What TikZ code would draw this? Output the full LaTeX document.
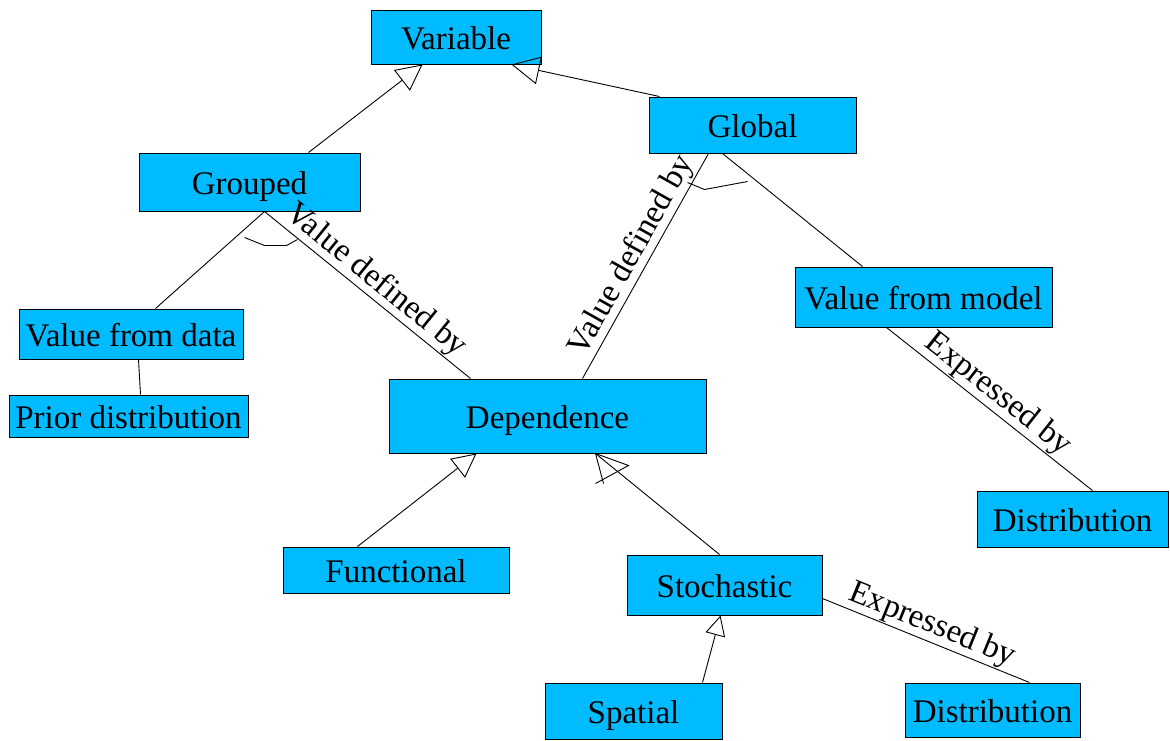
\documentclass[tikz,border=0pt]{standalone}
\usepackage{fontspec}
\setmainfont{Liberation Serif}
\usetikzlibrary{calc,arrows.meta}
\definecolor{boxblue}{RGB}{0,187,255}
\begin{document}
\begin{tikzpicture}[x=1pt,y=-1pt,
  box/.style={draw=black, line width=1pt, fill=boxblue, inner sep=0pt, anchor=center,
    text height=24.5pt, text depth=0pt,
    font=\fontsize{33}{40}\selectfont},
  conn/.style={draw=black, line width=0.9pt},
  lbl/.style={sloped, above, inner sep=1pt, font=\fontsize{33}{40}\selectfont},
  gen/.style={-{Triangle[open,length=#1,width=#1,line width=0.9pt]}},
  gen/.default=26pt]
\useasboundingbox (0,0) rectangle (1170,740);

\node[box, minimum width=170pt, minimum height=54pt] (var) at (456,37) {Variable};
\node[box, minimum width=207pt, minimum height=56pt] (glob) at (752.5,125) {Global};
\node[box, minimum width=221pt, minimum height=58pt] (grp) at (249.5,182) {Grouped};
\node[box, minimum width=224pt, minimum height=50pt] (vdata) at (131,334) {Value from data};
\node[box, minimum width=239pt, minimum height=42pt] (prior) at (128.5,416) {Prior distribution};
\node[box, minimum width=317pt, minimum height=74pt] (dep) at (547.5,416) {Dependence};
\node[box, minimum width=226pt, minimum height=46pt] (func) at (396,570) {Functional};
\node[box, minimum width=195pt, minimum height=60pt] (stoch) at (724.5,585) {Stochastic};
\node[box, minimum width=177pt, minimum height=56pt] (spat) at (633.5,711) {Spatial};
\node[box, minimum width=175pt, minimum height=54pt] (dist2) at (992.5,710) {Distribution};
\node[box, minimum width=257pt, minimum height=60pt] (vmodel) at (923.5,297) {Value from model};
\node[box, minimum width=191pt, minimum height=56pt] (dist1) at (1072.5,519) {Distribution};

% generalisations
\draw[conn, gen] ($(grp.north west)+(170,0)$) -- ($(var.south west)+(52,0)$);
\draw[conn, gen=28pt] ($(glob.north west)+(11,0)$) -- ($(var.south west)+(141,0)$);
\draw[conn, gen=24pt] ($(func.north west)+(75,0)$) -- ($(dep.south west)+(88,0)$);
\draw[conn, gen=20pt] ($(spat.north west)+(158,0)$) -- ($(stoch.south west)+(94,0)$);
\draw[conn] ($(stoch.north west)+(93,0)$) -- ($(dep.south west)+(207,0)$);
\draw[conn] ($(dep.south west)+(207,0)$) -- ($(dep.south west)+(240,12)$) -- ($(dep.south west)+(207,30)$);
\draw[conn] ($(dep.south west)+(207,0)$) -- ($(dep.south west)+(215,30)$);

% associations
\draw[conn] ($(grp.south west)+(126,0)$) -- ($(vdata.north west)+(137,0)$);
\draw[conn] ($(grp.south west)+(126,0)$) -- node[lbl, pos=0.49] {Value defined by} ($(dep.north west)+(82,0)$);
\draw[conn] ($(glob.south west)+(60,0)$) -- node[lbl, pos=0.49] {Value defined by} ($(dep.north west)+(194,0)$);
\draw[conn] ($(glob.south west)+(74,0)$) -- ($(vmodel.north west)+(68,0)$);
\draw[conn] ($(vmodel.south west)+(92,0)$) -- node[lbl, pos=0.49] {Expressed by} ($(dist1.north west)+(116,0)$);
\draw[conn] ($(stoch.north east)+(0,44)$) -- node[lbl, pos=0.5] {Expressed by} ($(dist2.north west)+(125,0)$);
\draw[conn] ($(vdata.south west)+(120,0)$) -- ($(prior.north west)+(132,0)$);

% constraint arcs
\draw[conn] ($(grp.south west)+(106,26)$) -- ($(grp.south west)+(126,34)$) -- ($(grp.south west)+(148,34)$) -- ($(grp.south west)+(159,28)$);
\draw[conn] ($(glob.south west)+(39,29)$) -- ($(glob.south west)+(56,36)$) -- ($(glob.south west)+(99,28)$);
\end{tikzpicture}
\end{document}
